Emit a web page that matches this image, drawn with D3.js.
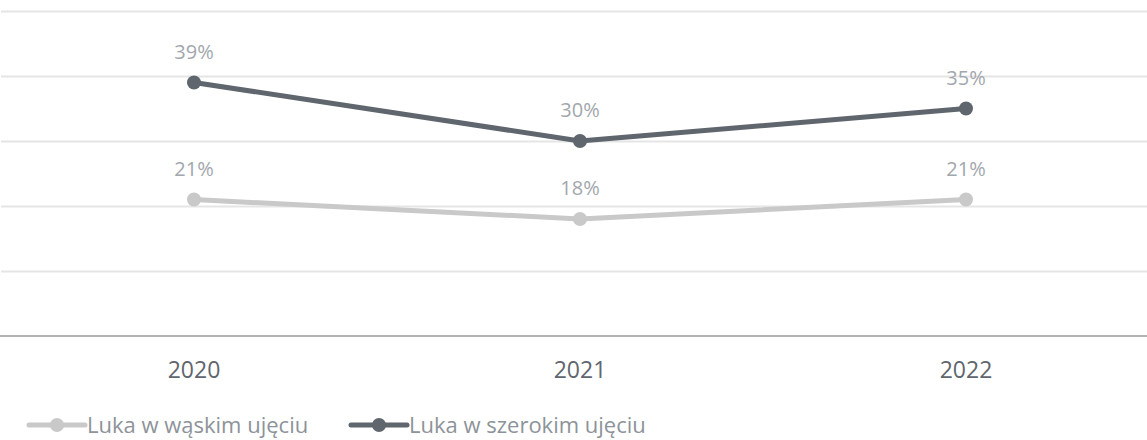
<!DOCTYPE html>
<html>
<head>
<meta charset="utf-8">
<style>
    body {
        margin: 0;
        background: #fff;
    }

    svg text {
        font-family: 'Open Sans', sans-serif;
    }

    .grid line {
        stroke: #e5e5e5;
        stroke-width: 2px;
    }

    .grid .domain {
        display: none;
    }
</style>
</head>
<body>
<svg width="1147" height="440"></svg>
<script src="https://cdn.jsdelivr.net/npm/d3@7"></script>
<script>
    var years = ["2020", "2021", "2022"];
    var seriesNames = ["Luka w wąskim ujęciu", "Luka w szerokim ujęciu"];
    var narrowGap = [21, 18, 21];
    var broadGap = [39, 30, 35];
    var yTicks = [0, 10, 20, 30, 40, 50];
    var seriesColors = ["#c9c9c9", "#5f666d"];

    var svg = d3.select("svg"),
        margin = { top: 11, right: -12, bottom: 104, left: 1 },
        width = +svg.attr("width") - margin.left - margin.right,
        height = +svg.attr("height") - margin.top - margin.bottom,
        g = svg.append("g").attr("transform", "translate(" + margin.left + "," + margin.top + ")");

    var x = d3.scalePoint()
        .domain(years)
        .range([0, width])
        .padding(0.5);

    var y = d3.scaleLinear()
        .domain([0, 50])
        .range([height, 0]);

    // horizontal gridlines
    g.append("g")
        .attr("class", "grid")
        .call(d3.axisLeft(y)
            .tickValues(yTicks.slice(1))
            .tickSize(-1160)
            .tickFormat(""));

    // baseline
    g.append("line")
        .attr("x1", -1)
        .attr("x2", 1147)
        .attr("y1", y(0))
        .attr("y2", y(0))
        .attr("stroke", "#b3b3b3")
        .attr("stroke-width", 2);

    // year labels
    g.selectAll(".year")
        .data(years)
        .enter().append("text")
        .attr("class", "year")
        .attr("x", function (d) { return x(d); })
        .attr("y", y(0) + 42)
        .attr("text-anchor", "middle")
        .attr("font-size", 23)
        .attr("fill", "#5f666d")
        .text(function (d) { return d; });

    var series = [narrowGap, broadGap].map(function (vals, i) {
        return {
            name: seriesNames[i],
            color: seriesColors[i],
            values: vals.map(function (v, j) { return { year: years[j], value: v }; })
        };
    });

    var line = d3.line()
        .x(function (d) { return x(d.year); })
        .y(function (d) { return y(d.value); });

    var sg = g.selectAll(".series")
        .data(series)
        .enter().append("g")
        .attr("class", "series");

    sg.append("path")
        .attr("d", function (d) { return line(d.values); })
        .attr("fill", "none")
        .attr("stroke", function (d) { return d.color; })
        .attr("stroke-width", 5)
        .attr("stroke-linejoin", "round");

    sg.selectAll("circle")
        .data(function (d) { return d.values.map(function (v) { return { v: v, color: d.color }; }); })
        .enter().append("circle")
        .attr("cx", function (d) { return x(d.v.year); })
        .attr("cy", function (d) { return y(d.v.value); })
        .attr("r", 7)
        .attr("fill", function (d) { return d.color; });

    sg.selectAll(".lbl")
        .data(function (d) { return d.values; })
        .enter().append("text")
        .attr("class", "lbl")
        .attr("x", function (d) { return x(d.year); })
        .attr("y", function (d) { return y(d.value) - 24; })
        .attr("text-anchor", "middle")
        .attr("font-size", 20)
        .attr("fill", "#a2a7ad")
        .text(function (d) { return d.value + "%"; });

    // legend
    var legendX = [29, 351];
    var legend = svg.selectAll(".legend")
        .data(series)
        .enter().append("g")
        .attr("class", "legend")
        .attr("transform", function (d, i) { return "translate(" + legendX[i] + ",425)"; });

    legend.append("line")
        .attr("x1", 0)
        .attr("x2", 56)
        .attr("stroke", function (d) { return d.color; })
        .attr("stroke-width", 5)
        .attr("stroke-linecap", "round");

    legend.append("circle")
        .attr("cx", 28)
        .attr("r", 7)
        .attr("fill", function (d) { return d.color; });

    legend.append("text")
        .attr("x", 58)
        .attr("y", 7.5)
        .attr("font-size", 22)
        .attr("fill", "#8d9399")
        .text(function (d) { return d.name; });
</script>
</body>
</html>
